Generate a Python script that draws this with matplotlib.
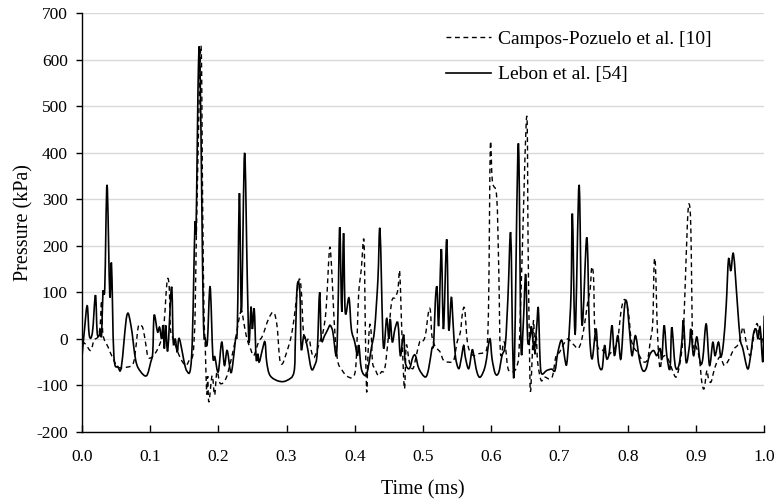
import numpy as np
import matplotlib
matplotlib.use("Agg")
import matplotlib.pyplot as plt
from matplotlib.path import Path
from matplotlib.patches import PathPatch
from matplotlib.lines import Line2D

# Lebon et al. [54] (solid)
lebon_t = [0.000, 0.004, 0.008, 0.011, 0.0156, 0.020, 0.0225, 0.0254, 0.0274, 0.029,
           0.031, 0.0337, 0.037, 0.041, 0.0435, 0.047, 0.053, 0.058, 0.066, 0.072,
           0.079, 0.086, 0.095, 0.101, 0.104, 0.106, 0.111, 0.114, 0.117, 0.119,
           0.121, 0.123, 0.126, 0.1315, 0.134, 0.137, 0.140, 0.143, 0.1535, 0.161,
           0.1657, 0.1675, 0.171, 0.1735, 0.178, 0.181, 0.184, 0.188, 0.192, 0.195,
           0.200, 0.205, 0.209, 0.213, 0.218, 0.221, 0.2253, 0.228, 0.231, 0.234,
           0.2385, 0.2425, 0.245, 0.248, 0.250, 0.2527, 0.2555, 0.258, 0.260, 0.265,
           0.2685, 0.271, 0.276, 0.289, 0.301, 0.311, 0.313, 0.3157, 0.3196, 0.3215,
           0.3254, 0.330, 0.3363, 0.3412, 0.345, 0.3485, 0.351, 0.3558, 0.3607, 0.364,
           0.368, 0.373, 0.3754, 0.378, 0.381, 0.3836, 0.386, 0.3915, 0.395, 0.400,
           0.4038, 0.406, 0.4096, 0.4155, 0.4194, 0.4242, 0.4291, 0.434, 0.437, 0.4418,
           0.4467, 0.450, 0.452, 0.455, 0.459, 0.4633, 0.4667, 0.4697, 0.472, 0.474,
           0.480, 0.485, 0.489, 0.494, 0.5034, 0.5083, 0.513, 0.5156, 0.518, 0.5205,
           0.523, 0.5269, 0.530, 0.5347, 0.5376, 0.5415, 0.544, 0.5474, 0.5523, 0.556,
           0.5596, 0.562, 0.567, 0.5718, 0.574, 0.579, 0.5841, 0.5914, 0.5978, 0.6012,
           0.606, 0.611, 0.6158, 0.6207, 0.6246, 0.6285, 0.6315, 0.634, 0.6397, 0.6436,
           0.647, 0.6505, 0.6534, 0.657, 0.659, 0.663, 0.6666, 0.669, 0.6716, 0.674,
           0.6813, 0.6886, 0.6935, 0.6975, 0.7033, 0.7082, 0.7106, 0.7136, 0.717, 0.719,
           0.723, 0.7287, 0.733, 0.740, 0.7438, 0.7478, 0.7536, 0.757, 0.7625, 0.766,
           0.7692, 0.773, 0.777, 0.7805, 0.7855, 0.790, 0.795, 0.7986, 0.8024, 0.8064,
           0.8113, 0.817, 0.822, 0.827, 0.8318, 0.8378, 0.8426, 0.8475, 0.850, 0.8534,
           0.8573, 0.862, 0.8646, 0.8695, 0.875, 0.8793, 0.8817, 0.8856, 0.8905, 0.8925,
           0.8964, 0.9013, 0.9062, 0.910, 0.915, 0.9198, 0.9247, 0.928, 0.933, 0.9365,
           0.9404, 0.9443, 0.9477, 0.9511, 0.955, 0.9609, 0.9648, 0.9687, 0.9755, 0.9794,
           0.9843, 0.988, 0.991, 0.9941, 0.998, 1.000]
lebon_p = [-43, 21, 71, 7, 14, 94, 14, 7, 21, 7,
           100, 111, 331, 93, 161, -36, -60, -60, 50, 29,
           -46, -70, -79, -50, -29, 51, 15, 25, 0, 29,
           -21, 29, -25, 112, -7, 0, -29, 0, -68, -36,
           240, 240, 590, 560, 58, 0, -7, 112, -36, -39,
           -71, -7, -57, -25, -71, -57, 0, 29, 313, 57,
           399, 129, -7, 68, 21, 64, -43, -32, -50, -21,
           -7, -50, -79, -91, -89, -71, 0, 114, 100, -21,
           7, -14, -64, -57, -29, 100, 0, 7, 21, 29,
           14, -36, 57, 240, 58, 227, 58, 88, 21, -7,
           -36, -14, -64, -79, -64, -21, 21, 129, 235, -14,
           44, 0, 43, -7, 22, 33, -36, -7, 7, -50,
           -64, -40, -36, -64, -82, -64, -21, -11, 79, 111,
           29, 193, 21, 214, 21, 89, 36, -36, -64, -43,
           -14, -39, -64, -25, -32, -71, -82, -57, 0, -43,
           -75, -72, -36, -11, 93, 227, -21, -49, 420, -14,
           34, 139, -3, 5, 26, -24, 26, 66, -46, -75,
           -68, -65, -68, -30, -3, -46, -54, 0, 100, 268,
           10, 331, 30, 218, 20, -43, 21, -50, -64, -14,
           -43, -29, 29, -36, 7, -43, 64, 79, 21, -36,
           7, -43, -68, -64, -36, -25, -36, -21, -43, 29,
           -36, -64, 25, -57, -57, -7, 39, -50, -14, 21,
           -36, 4, -50, -43, 32, -57, -7, -36, -7, -39,
           -7, 71, 171, 146, 182, 71, 0, -21, -64, -43,
           11, 21, 0, 25, -50, 50]

# Campos-Pozuelo et al. [10] (dashed)
campos_t = [0.000, 0.006, 0.013, 0.018, 0.024, 0.027, 0.029, 0.031, 0.0386, 0.046,
            0.0533, 0.0655, 0.075, 0.079, 0.0826, 0.086, 0.0899, 0.094, 0.097, 0.102,
            0.1085, 0.1144, 0.119, 0.122, 0.125, 0.128, 0.130, 0.134, 0.139, 0.145,
            0.1525, 0.1584, 0.163, 0.166, 0.168, 0.1745, 0.177, 0.179, 0.181, 0.183,
            0.1845, 0.1862, 0.191, 0.1946, 0.198, 0.203, 0.211, 0.218, 0.2253, 0.230,
            0.234, 0.238, 0.242, 0.247, 0.252, 0.259, 0.265, 0.2737, 0.281, 0.286,
            0.290, 0.2937, 0.2986, 0.306, 0.311, 0.318, 0.3215, 0.3245, 0.328, 0.333,
            0.337, 0.341, 0.3485, 0.3534, 0.358, 0.363, 0.3656, 0.368, 0.3714, 0.3754,
            0.380, 0.3876, 0.3973, 0.402, 0.4056, 0.4096, 0.4135, 0.4155, 0.4174, 0.4195,
            0.4218, 0.424, 0.426, 0.4296, 0.4345, 0.439, 0.444, 0.449, 0.454, 0.4594,
            0.4633, 0.4658, 0.468, 0.4707, 0.4731, 0.4755, 0.480, 0.4853, 0.4902, 0.495,
            0.4985, 0.5034, 0.508, 0.5108, 0.513, 0.517, 0.5205, 0.5254, 0.530, 0.5376,
            0.545, 0.550, 0.5547, 0.558, 0.5611, 0.5645, 0.568, 0.5743, 0.5817, 0.589,
            0.594, 0.5963, 0.5987, 0.6017, 0.608, 0.611, 0.6134, 0.6183, 0.621, 0.6246,
            0.6305, 0.6363, 0.6403, 0.6427, 0.645, 0.652, 0.654, 0.656, 0.6574, 0.660,
            0.662, 0.664, 0.666, 0.668, 0.673, 0.678, 0.685, 0.690, 0.695, 0.700,
            0.705, 0.7121, 0.717, 0.7218, 0.727, 0.7317, 0.7365, 0.7414, 0.745, 0.7473,
            0.750, 0.7517, 0.7561, 0.761, 0.7659, 0.7708, 0.7757, 0.7805, 0.7855, 0.790,
            0.7937, 0.7976, 0.8016, 0.805, 0.810, 0.8147, 0.8196, 0.8245, 0.8294, 0.8328,
            0.8367, 0.8387, 0.8407, 0.8426, 0.845, 0.8475, 0.850, 0.855, 0.860, 0.8646,
            0.871, 0.8768, 0.8808, 0.8837, 0.8875, 0.890, 0.8925, 0.895, 0.898, 0.9013,
            0.9051, 0.9086, 0.912, 0.916, 0.9184, 0.922, 0.926, 0.9306, 0.9355, 0.9413,
            0.9462, 0.951, 0.956, 0.9609, 0.9648, 0.9687, 0.9711, 0.9745, 0.9794, 0.9833,
            0.9867, 0.990, 0.993, 0.9965, 1.000]
campos_p = [-5, -12, -25, -3, 5, 30, 82, 10, -18, -43,
            -61, -61, -54, -21, 25, 30, 21, -14, -39, -40,
            -29, -11, 14, 61, 125, 114, 21, 0, -21, -43,
            -57, -43, -32, 50, 230, 630, 300, 60, -20, -118,
            -80, -136, -79, -121, -71, -96, -86, -50, 0, 40,
            60, 30, 0, -20, -36, -7, 7, 43, 57, 29,
            -43, -54, -36, 0, 43, 125, 107, 21, -7, 0,
            -30, -39, -7, 14, 64, 193, 164, 93, 0, -50,
            -64, -79, -82, -50, 93, 150, 211, 21, -114, -30,
            29, 14, -50, -64, -79, -71, -64, 0, 79, 89,
            107, 146, 57, -50, -107, -14, -50, -64, -36, -7,
            -7, 7, 57, 61, 7, -14, -21, -29, -46, -50,
            -46, -7, 14, 57, 64, 0, -25, -36, -32, -29,
            -14, 93, 415, 337, 305, 150, -29, -7, -20, -64,
            -71, -64, -36, 57, 164, 479, 200, -21, -114, -40,
            40, -37, 5, -50, -89, -82, -86, -79, -36, -29,
            -14, 0, -7, -14, -21, -7, 29, 79, 107, 154,
            129, 21, -18, -21, -29, -36, -29, -21, 0, 57,
            82, 80, 50, 0, -21, -29, -43, -50, -43, -7,
            36, 161, 157, 57, -29, -64, -43, -36, -46, -64,
            -82, -50, 0, 93, 250, 290, 236, 0, -10, -21,
            -43, -93, -107, -68, -86, -93, -71, -50, -39, -57,
            -50, -36, -21, -14, 0, 25, 14, -14, -36, -7,
            21, 32, 0, 7, -21]

x_ticks = [0.0, 0.1, 0.2, 0.3, 0.4, 0.5, 0.6, 0.7, 0.8, 0.9, 1.0]
y_ticks = [-200, -100, 0, 100, 200, 300, 400, 500, 600, 700]


def smooth_path(t, p):
    """Excel-style smoothed line: cubic Bezier segments through every point."""
    pts = np.column_stack([t, p]).astype(float)
    n = len(pts)
    verts = [pts[0]]
    codes = [Path.MOVETO]
    for i in range(n - 1):
        p0 = pts[max(i - 1, 0)]
        p1 = pts[i]
        p2 = pts[i + 1]
        p3 = pts[min(i + 2, n - 1)]
        c1 = p1 + (p2 - p0) / 6.0
        c2 = p2 - (p3 - p1) / 6.0
        verts += [c1, c2, p2]
        codes += [Path.CURVE4] * 3
    return Path(verts, codes)


plt.rcParams['font.family'] = ['Liberation Serif', 'DejaVu Serif']

fig = plt.figure(figsize=(7.79, 5.04), dpi=100)
ax = fig.add_axes([0.105, 0.143, 0.876, 0.831])

dash_style = dict(color='black', lw=1.0, linestyle=(0, (3.5, 2.6)))
solid_style = dict(color='black', lw=1.2, linestyle='-')

ax.add_patch(PathPatch(smooth_path(campos_t, campos_p), fill=False, **dash_style))
ax.add_patch(PathPatch(smooth_path(lebon_t, lebon_p), fill=False, **solid_style))

ax.set_xlim(0, 1.0)
ax.set_ylim(-200, 700)
ax.set_xticks(x_ticks)
ax.set_xticklabels([f'{v:.1f}' for v in x_ticks])
ax.set_yticks(y_ticks)
ax.set_yticklabels([str(v) for v in y_ticks])
ax.grid(axis='y', color='#d9d9d9', lw=1.0)
ax.set_axisbelow(True)

for s in ['top', 'right']:
    ax.spines[s].set_visible(False)
ax.spines['left'].set_linewidth(1.0)
ax.spines['bottom'].set_linewidth(1.0)
ax.tick_params(axis='x', direction='in', length=5, width=1.0, labelsize=12.5, pad=12)
ax.tick_params(axis='y', direction='out', length=4, width=1.0, labelsize=12.5, pad=6)

ax.set_xlabel('Time (ms)', fontsize=14.5, labelpad=11)
ax.set_ylabel('Pressure (kPa)', fontsize=14.5, labelpad=2)

handles = [Line2D([], [], **dash_style), Line2D([], [], **solid_style)]
labels = ['Campos-Pozuelo et al. [10]', 'Lebon et al. [54]']
ax.legend(handles, labels, loc='upper left', bbox_to_anchor=(0.508, 1.0),
          frameon=False, fontsize=14, handlelength=2.3, handletextpad=0.4,
          labelspacing=0.9)

fig.savefig('out.png', dpi=100)
